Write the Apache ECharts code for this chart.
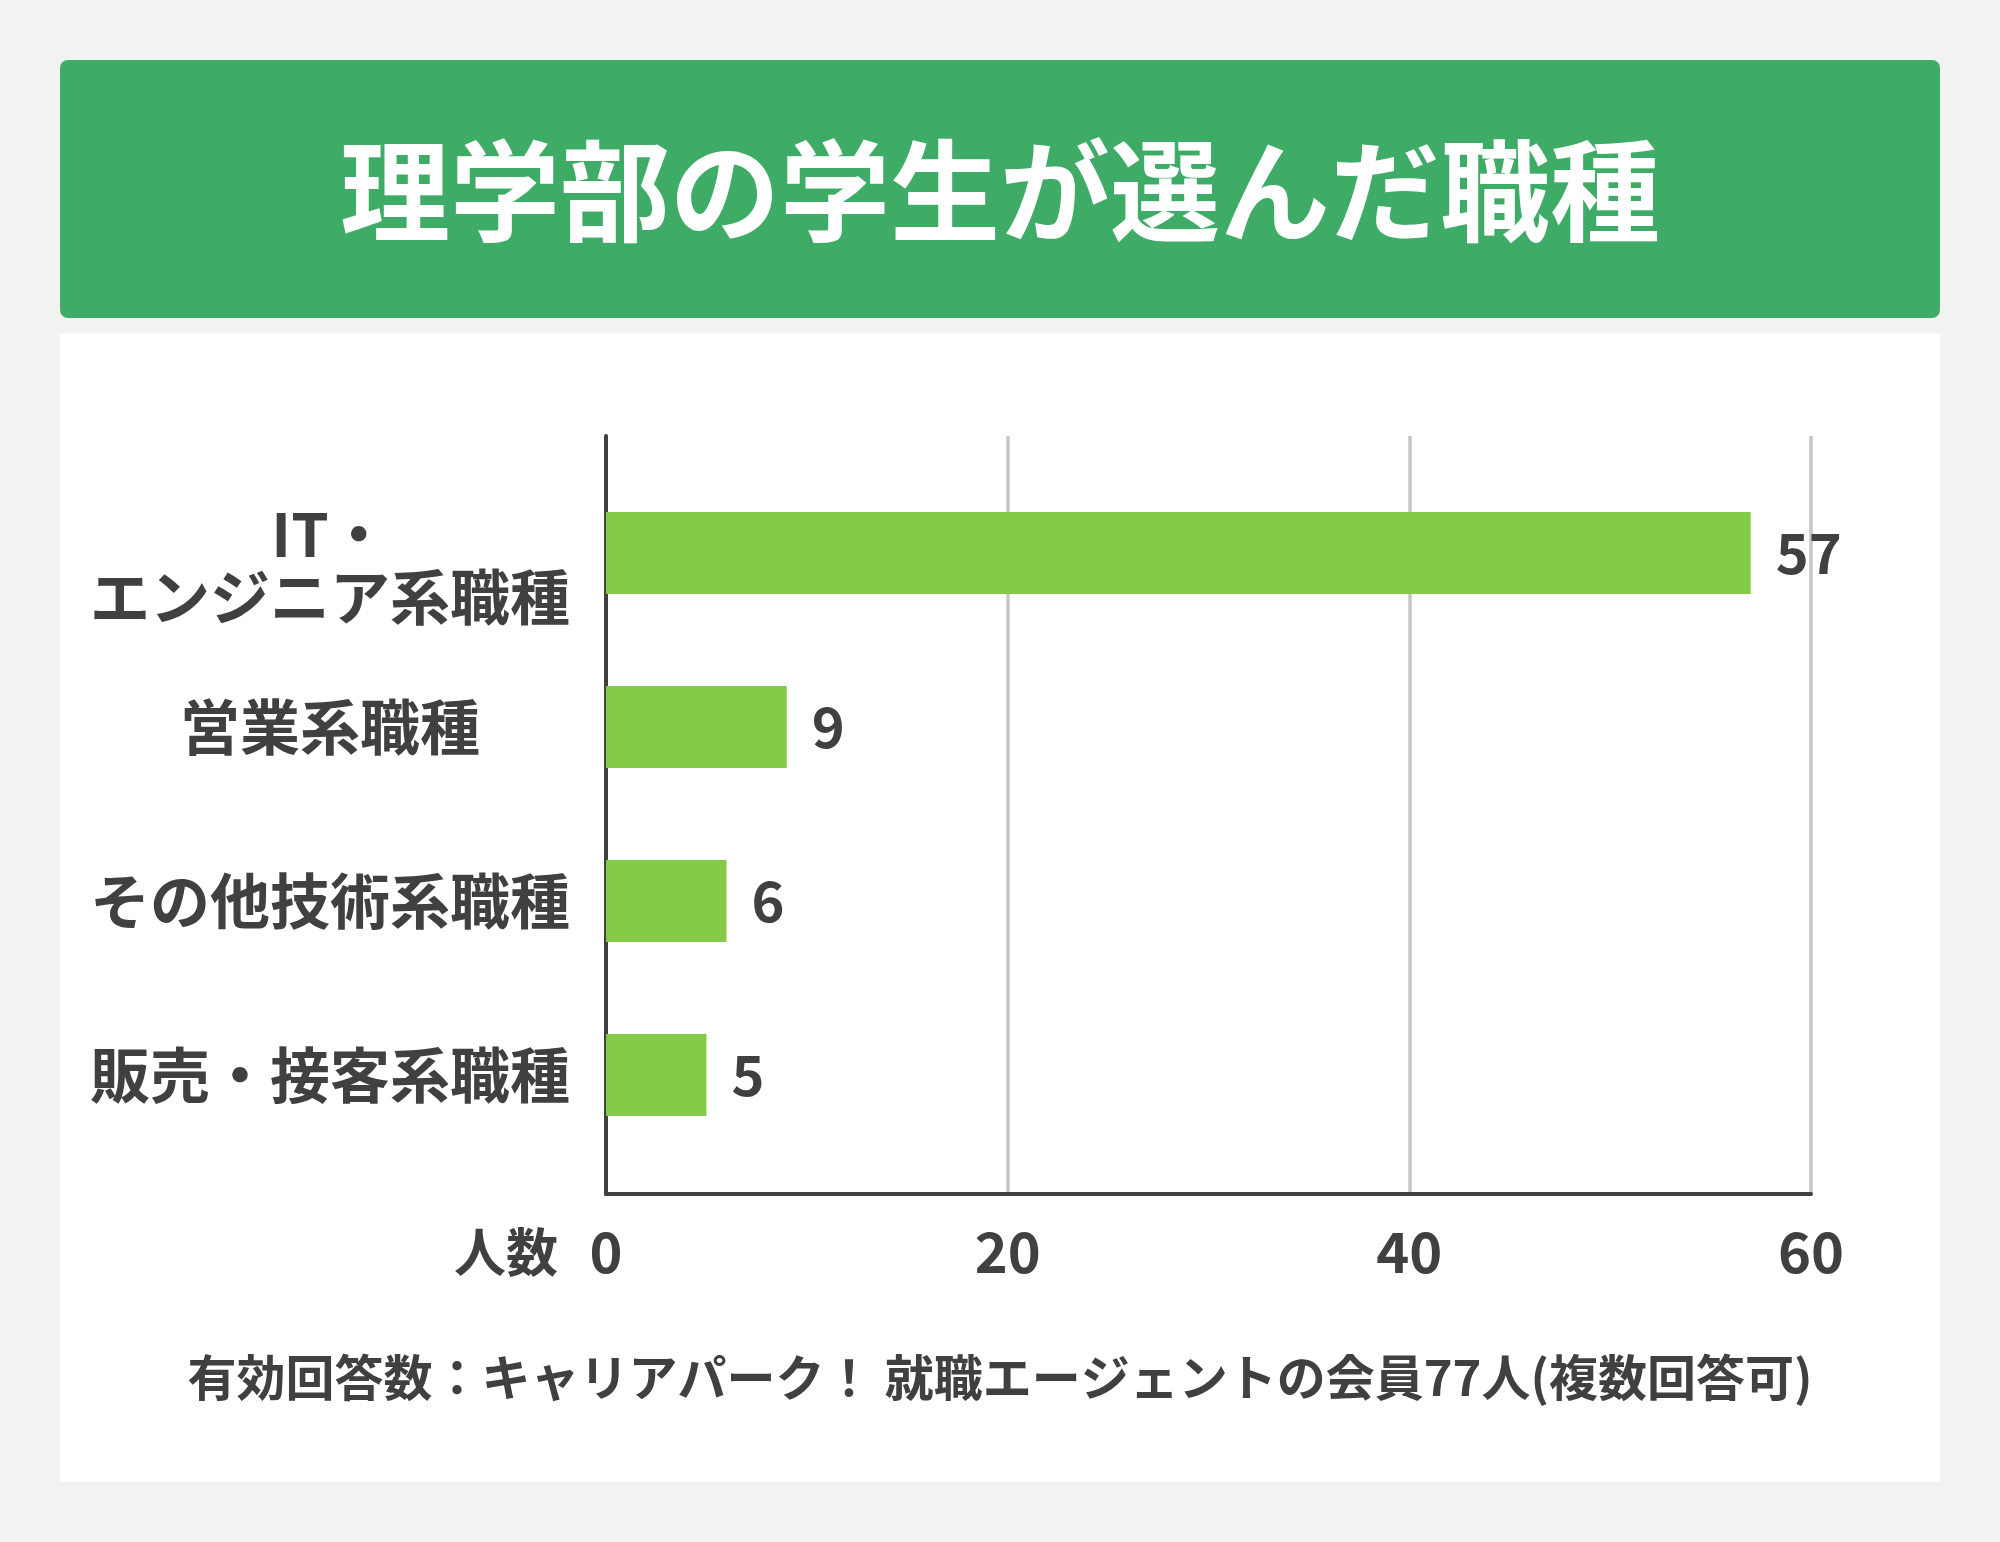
<!DOCTYPE html>
<html>
<head>
<meta charset="utf-8">
<script src="https://cdn.jsdelivr.net/npm/echarts@6/dist/echarts.min.js"></script>
<style>
  html, body { margin: 0; padding: 0; background: #f2f2f2; }
  #chart { width: 2000px; height: 1542px; }
</style>
</head>
<body>
<div id="chart"></div>
<script>
// データ
let categories = ['IT・\nエンジニア系職種', '営業系職種', 'その他技術系職種', '販売・接客系職種'];
let counts = [57, 9, 6, 5];
let xTicks = [0, 20, 40, 60];

let titleText = '理学部の学生が選んだ職種';
let axisName = '人数';
let noteText = '有効回答数：キャリアパーク！ 就職エージェントの会員77人(複数回答可)';

let font = '"Noto Sans CJK JP", "Noto Sans", sans-serif';
let textColor = '#404040';

let myChart = echarts.init(document.getElementById('chart'));

let labelStyle = {
    color: textColor,
    fontSize: 60,
    fontWeight: 'bold',
    fontFamily: font,
    lineHeight: 66
};

let option = {
    backgroundColor: '#f2f2f2',
    animation: false,
    textStyle: { fontFamily: font },
    graphic: [
        // 見出し帯
        {
            type: 'rect', z: 0,
            shape: { x: 60, y: 60, width: 1880, height: 258, r: 8 },
            style: { fill: '#3eab67' }
        },
        {
            type: 'text', z: 1,
            x: 1000, y: 191,
            style: {
                text: titleText, fill: '#ffffff',
                font: 'bold 110px ' + font,
                textAlign: 'center', textVerticalAlign: 'middle'
            }
        },
        // 白いパネル
        {
            type: 'rect', z: -1,
            shape: { x: 60, y: 333, width: 1880, height: 1149 },
            style: { fill: '#ffffff' }
        },
        {
            type: 'text', z: 1,
            x: 558, y: 1252,
            style: {
                text: axisName, fill: textColor,
                font: 'bold 52px ' + font,
                textAlign: 'right', textVerticalAlign: 'middle'
            }
        },
        {
            type: 'text', z: 1,
            x: 1000, y: 1377,
            style: {
                text: noteText, fill: textColor,
                font: 'bold 49px ' + font,
                textAlign: 'center', textVerticalAlign: 'middle'
            }
        }
    ],
    grid: [
        // 軸と目盛線
        { left: 606, right: 189, top: 436, bottom: 348, outerBoundsMode: 'none', containLabel: false },
        // 棒
        { left: 606, right: 189, top: 466, bottom: 380, outerBoundsMode: 'none', containLabel: false }
    ],
    xAxis: [
        {
            gridIndex: 0,
            type: 'value',
            min: xTicks[0],
            max: xTicks[xTicks.length - 1],
            interval: xTicks[1] - xTicks[0],
            axisLine: { show: true, lineStyle: { color: textColor, width: 4 } },
            axisTick: { show: false },
            axisLabel: {
                margin: 30,
                color: textColor,
                fontSize: 56,
                fontWeight: 'bold',
                fontFamily: font
            },
            splitLine: { show: true, lineStyle: { color: '#c6c6c6', width: 3.5 } }
        },
        {
            gridIndex: 1,
            type: 'value',
            min: xTicks[0],
            max: xTicks[xTicks.length - 1],
            show: false
        }
    ],
    yAxis: [
        {
            gridIndex: 0,
            type: 'value',
            axisLine: { show: true, lineStyle: { color: textColor, width: 4 } },
            axisTick: { show: false },
            axisLabel: { show: false },
            splitLine: { show: false }
        },
        {
            gridIndex: 1,
            type: 'category',
            inverse: true,
            data: categories,
            axisLine: { show: false },
            axisTick: { show: false },
            axisLabel: Object.assign({
                margin: 276,
                align: 'center',
                // 2行のラベルは少し下げる
                formatter: function (value) {
                    let lines = value.split('\n');
                    if (lines.length < 2) return value;
                    return lines.map(function (s, i) {
                        return (i === 0 ? '{top|' : '{n|') + s + '}';
                    }).join('\n');
                },
                rich: {
                    top: Object.assign({ padding: [28, 0, 0, 0] }, labelStyle),
                    n: Object.assign({ padding: [22, 0, 0, 0] }, labelStyle)
                }
            }, labelStyle)
        }
    ],
    series: [{
        type: 'bar',
        xAxisIndex: 1,
        yAxisIndex: 1,
        data: counts,
        barWidth: 82,
        itemStyle: { color: '#84cc48' },
        label: {
            show: true,
            position: 'right',
            distance: 25,
            color: textColor,
            fontSize: 56,
            fontWeight: 'bold',
            fontFamily: font
        }
    }]
};

myChart.setOption(option);
</script>
</body>
</html>
